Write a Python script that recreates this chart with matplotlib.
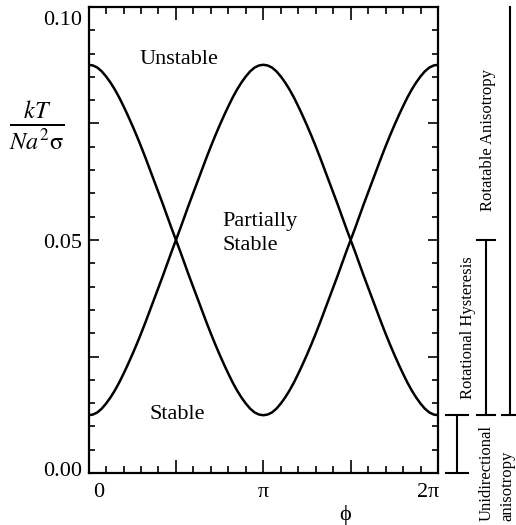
import numpy as np
import matplotlib
matplotlib.use('Agg')
import matplotlib.pyplot as plt
from matplotlib.ticker import MultipleLocator
import matplotlib.transforms as mtransforms

plt.rcParams['font.family'] = ['Liberation Serif', 'DejaVu Serif']
plt.rcParams['mathtext.fontset'] = 'stix'

# phi sample positions, in units of pi/40
phi_steps = list(range(81))
# curve that starts at the top (phi = 0 ... 2pi)
curve_a = [0.0876, 0.08745, 0.0870, 0.0862, 0.0851, 0.0838, 0.0823, 0.0806, 0.0787, 0.0767,
           0.0746, 0.0724, 0.0701, 0.0677, 0.0652, 0.0627, 0.0602, 0.0577, 0.0551, 0.0525,
           0.0500, 0.0475, 0.0449, 0.0423, 0.0398, 0.0373, 0.0348, 0.0323, 0.0299, 0.0276,
           0.0254, 0.0233, 0.0213, 0.0194, 0.0177, 0.0162, 0.0149, 0.0138, 0.0130, 0.01255,
           0.0124,
           0.01255, 0.0130, 0.0138, 0.0149, 0.0162, 0.0177, 0.0194, 0.0213, 0.0233, 0.0254,
           0.0276, 0.0299, 0.0323, 0.0348, 0.0373, 0.0398, 0.0423, 0.0449, 0.0475, 0.0500,
           0.0525, 0.0551, 0.0577, 0.0602, 0.0627, 0.0652, 0.0677, 0.0701, 0.0724, 0.0746,
           0.0767, 0.0787, 0.0806, 0.0823, 0.0838, 0.0851, 0.0862, 0.0870, 0.08745, 0.0876]
# curve that starts at the bottom
curve_b = [0.0124, 0.01255, 0.0130, 0.0138, 0.0149, 0.0162, 0.0177, 0.0194, 0.0213, 0.0233,
           0.0254, 0.0276, 0.0299, 0.0323, 0.0348, 0.0373, 0.0398, 0.0423, 0.0449, 0.0475,
           0.0500, 0.0525, 0.0551, 0.0577, 0.0602, 0.0627, 0.0652, 0.0677, 0.0701, 0.0724,
           0.0746, 0.0767, 0.0787, 0.0806, 0.0823, 0.0838, 0.0851, 0.0862, 0.0870, 0.08745,
           0.0876,
           0.08745, 0.0870, 0.0862, 0.0851, 0.0838, 0.0823, 0.0806, 0.0787, 0.0767, 0.0746,
           0.0724, 0.0701, 0.0677, 0.0652, 0.0627, 0.0602, 0.0577, 0.0551, 0.0525, 0.0500,
           0.0475, 0.0449, 0.0423, 0.0398, 0.0373, 0.0348, 0.0323, 0.0299, 0.0276, 0.0254,
           0.0233, 0.0213, 0.0194, 0.0177, 0.0162, 0.0149, 0.0138, 0.0130, 0.01255, 0.0124]

x_tick_labels = ['0', 'π', '2π']
x_tick_vals = [0.0, np.pi, 2 * np.pi]
y_tick_labels = ['0.00', '0.05', '0.10']
y_tick_vals = [0.0, 0.05, 0.10]

# regime boundaries (values of kT/Na^2 sigma)
regime_low = 0.0124
regime_mid = 0.05
regime_top = 0.10

phi = np.array(phi_steps) * np.pi / 40

fig = plt.figure(figsize=(5.16, 5.25), dpi=100)
ax = fig.add_axes([88.6 / 516, 1 - 473 / 525, 349.4 / 516, 466 / 525])

ax.plot(phi, curve_a, color='black', lw=1.8, solid_joinstyle='round')
ax.plot(phi, curve_b, color='black', lw=1.8, solid_joinstyle='round')

ax.set_xlim(0, 2 * np.pi)
ax.set_ylim(0, 0.10)

for s in ax.spines.values():
    s.set_linewidth(1.6)

ax.xaxis.set_major_locator(MultipleLocator(np.pi / 2))
ax.xaxis.set_minor_locator(MultipleLocator(np.pi / 10))
ax.yaxis.set_major_locator(MultipleLocator(0.025))
ax.yaxis.set_minor_locator(MultipleLocator(0.005))
ax.tick_params(which='both', direction='in', top=True, right=True,
               labelbottom=False, labelleft=False, width=1.2)
ax.tick_params(axis='x', which='major', length=9.4)
ax.tick_params(axis='x', which='minor', length=5)
ax.tick_params(axis='y', which='major', length=7.2)
ax.tick_params(axis='y', which='minor', length=4.3)

fs = 16
# x tick labels
x_offsets = [7, 0, -7]
for v, lab, dx in zip(x_tick_vals, x_tick_labels, x_offsets):
    ax.annotate(lab, xy=(v, 0), xycoords=('data', 'axes fraction'),
                xytext=(dx, -17.5), textcoords='offset points',
                ha='center', va='baseline', fontsize=fs)
# y tick labels
y_offsets = [-2.2, -6, -13]
for v, lab, dy in zip(y_tick_vals, y_tick_labels, y_offsets):
    ax.annotate(lab, xy=(0, v), xycoords=('axes fraction', 'data'),
                xytext=(-4.8, dy), textcoords='offset points',
                ha='right', va='baseline', fontsize=fs)

# axis labels
ax.annotate('ϕ', xy=(1.47 * np.pi, 0), xycoords=('data', 'axes fraction'),
            xytext=(0, -30), textcoords='offset points',
            ha='center', va='center', fontsize=fs)
fig.text(36.7 / 516, 1 - 125 / 525, r'$\frac{kT}{Na^2\mathrm{\sigma}}$',
         ha='center', va='center', fontsize=25)

# region labels
ax.text(1.624, 0.0878, 'Unstable', ha='center', va='baseline', fontsize=fs)
ax.text(2.399, 0.0530, 'Partially', ha='left', va='baseline', fontsize=fs)
ax.text(2.399, 0.04785, 'Stable', ha='left', va='baseline', fontsize=fs)
ax.text(1.590, 0.01152, 'Stable', ha='center', va='baseline', fontsize=fs)

# regime brackets on the right
tr = mtransforms.blended_transform_factory(ax.transAxes, ax.transData)
lk = dict(color='black', lw=1.5, transform=tr, clip_on=False)
# unidirectional anisotropy
ax.plot([1.0544, 1.0544], [0, regime_low], **lk)
ax.plot([1.023, 1.086], [0, 0], **lk)
ax.plot([1.023, 1.086], [regime_low, regime_low], **lk)
# rotational hysteresis
ax.plot([1.1374, 1.1374], [regime_low, regime_mid], **lk)
ax.plot([1.1116, 1.1631], [regime_low, regime_low], **lk)
ax.plot([1.1116, 1.1631], [regime_mid, regime_mid], **lk)
# rotatable anisotropy
ax.plot([1.206, 1.206], [regime_low, regime_top], **lk)
ax.plot([1.183, 1.223], [regime_low, regime_low], **lk)

fs2 = 12
ax.text(1.1433, 0.0715, 'Rotatable Anisotropy', transform=tr, rotation=90,
        ha='center', va='center', fontsize=fs2)
ax.text(1.0862, 0.0311, 'Rotational Hysteresis', transform=tr, rotation=90,
        ha='center', va='center', fontsize=fs2)
fig.text(487 / 516, 1 - 521 / 525, 'Unidirectional', rotation=90,
         ha='center', va='bottom', fontsize=fs2)
fig.text(507.5 / 516, 1 - 521 / 525, 'anisotropy', rotation=90,
         ha='center', va='bottom', fontsize=fs2)

fig.savefig('out.png', dpi=100)
